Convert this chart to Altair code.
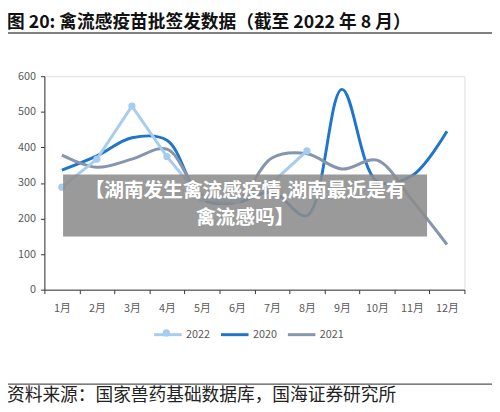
import altair as alt
import pandas as pd

MONTHS = ["1月", "2月", "3月", "4月", "5月", "6月", "7月", "8月", "9月", "10月", "11月", "12月"]
SERIES = ["2022", "2020", "2021"]
COLORS = ["#a6cdf0", "#1f74cc", "#8595ae"]

VALUES_2022 = [288, 367, 516, 374, 255, 250, 300, 390]
VALUES_2020 = [336, 376, 427, 420, 255, 245, 275, 208, 563, 305, 320, 445]
VALUES_2021 = [378, 344, 367, 395, 265, 250, 370, 382, 339, 364, 252, 127]

TITLE = "图 20:  禽流感疫苗批签发数据（截至 2022 年 8 月）"
SOURCE = "资料来源：国家兽药基础数据库，国海证券研究所"
BANNER_1 = "【湖南发生禽流感疫情,湖南最近是有"
BANNER_2 = "禽流感吗】"

W, H = 427, 217
FONT = "Noto Sans CJK SC"

rows = []
for name, vals in [("2022", VALUES_2022), ("2020", VALUES_2020), ("2021", VALUES_2021)]:
    for m, v in zip(MONTHS, vals):
        rows.append({"month": m, "year": name, "value": v})
df = pd.DataFrame(rows)

x_enc = alt.X(
    "month:N",
    sort=MONTHS,
    title=None,
    scale=alt.Scale(type="band", paddingInner=0, paddingOuter=0),
    axis=alt.Axis(
        tickBand="extent",
        labelAngle=0,
        labelColor="#595959",
        labelFontSize=11,
        labelPadding=9,
        domainColor="#333333",
        tickColor="#333333",
        tickSize=4,
    ),
)
y_enc = alt.Y(
    "value:Q",
    title=None,
    scale=alt.Scale(domain=[0, 600]),
    axis=alt.Axis(
        values=[0, 100, 200, 300, 400, 500, 600],
        grid=False,
        labelColor="#595959",
        labelFontSize=11,
        labelPadding=5,
        domainColor="#333333",
        tickColor="#333333",
        tickSize=4,
    ),
)
color_enc = alt.Color(
    "year:N",
    sort=SERIES,
    scale=alt.Scale(domain=SERIES, range=COLORS),
    legend=alt.Legend(
        title=None,
        orient="none",
        direction="horizontal",
        legendX=110,
        legendY=247,
        symbolType="stroke",
        symbolSize=784,
        symbolStrokeWidth=3,
        labelFontSize=11,
        labelColor="#595959",
        labelOffset=3,
        columnPadding=4,
    ),
)

base = alt.Chart(df)

smooth = base.transform_filter(alt.datum.year != "2022").mark_line(
    interpolate="catmull-rom", strokeWidth=3
).encode(x=x_enc, y=y_enc, color=color_enc)

straight = base.transform_filter(alt.datum.year == "2022").mark_line(
    strokeWidth=3
).encode(x=x_enc, y=y_enc, color=color_enc)

dots = base.transform_filter(alt.datum.year == "2022").mark_point(
    filled=True, size=55, opacity=1, color=COLORS[0]
).encode(x=x_enc, y=y_enc)

ann = alt.Chart(pd.DataFrame({"t": [TITLE]}))

# circle on the 2022 legend key
legend_dot = ann.mark_point(filled=True, size=55, opacity=1, color=COLORS[0]).encode(
    x=alt.value(124), y=alt.value(261)
)

title = ann.mark_text(
    font=FONT, fontSize=18, fontWeight="bold", align="left", baseline="middle", color="#111111"
).encode(x=alt.value(-38), y=alt.value(-54), text="t:N")

title_rule = ann.mark_rule(color="#555555", strokeWidth=1.5).encode(
    x=alt.value(-45), x2=alt.value(455), y=alt.value(-44)
)

source_rule = ann.mark_rule(color="#555555", strokeWidth=1.2).encode(
    x=alt.value(-45), x2=alt.value(455), y=alt.value(313)
)

source = alt.Chart(pd.DataFrame({"t": [SOURCE]})).mark_text(
    font=FONT, fontSize=18, align="left", baseline="middle", color="#222222"
).encode(x=alt.value(-38), y=alt.value(325), text="t:N")

banner = ann.mark_rect(color="#8c8c8c", opacity=0.88).encode(
    x=alt.value(19), x2=alt.value(389), y=alt.value(100), y2=alt.value(163)
)

banner_1 = alt.Chart(pd.DataFrame({"t": [BANNER_1]})).mark_text(
    font=FONT, fontSize=20, fontWeight="bold", align="center", baseline="middle", color="white"
).encode(x=alt.value(204), y=alt.value(117), text="t:N")

banner_2 = alt.Chart(pd.DataFrame({"t": [BANNER_2]})).mark_text(
    font=FONT, fontSize=20, fontWeight="bold", align="center", baseline="middle", color="white"
).encode(x=alt.value(204), y=alt.value(144), text="t:N")

chart = alt.layer(
    smooth, straight, dots, legend_dot, banner, banner_1, banner_2,
    title, title_rule, source_rule, source
).properties(
    width=W,
    height=H,
    autosize=alt.AutoSizeParams(type="none"),
    padding={"left": 37, "top": 66, "right": 28, "bottom": 120},
).configure_view(stroke=None).configure(font=FONT)

chart.save("out.html", embed_options={"renderer": "svg", "actions": False})
